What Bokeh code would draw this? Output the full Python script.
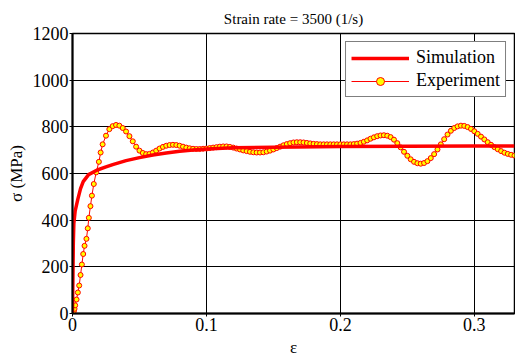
from bokeh.plotting import figure
from bokeh.models import Range1d, FixedTicker, Legend, LegendItem
from bokeh.embed import file_html
from bokeh.resources import INLINE

title_text = "Strain rate = 3500 (1/s)"
x_label = "ε"
y_label = "σ (MPa)"
x_ticks = [0, 0.1, 0.2, 0.3]
x_tick_labels = ["0", "0.1", "0.2", "0.3"]
y_ticks = [0, 200, 400, 600, 800, 1000, 1200]

sim_eps = [0, 0.0003, 0.0006, 0.001, 0.002, 0.004, 0.006, 0.008, 0.012, 0.0185,
           0.025, 0.03, 0.04, 0.05, 0.06, 0.07, 0.08, 0.09, 0.1, 0.12, 0.15,
           0.2, 0.25, 0.3, 0.33]
sim_sig = [0, 150, 300, 385, 440, 490, 535, 565, 595, 615,
           628, 638, 655, 668, 679, 688, 695, 701, 705, 710, 713,
           716, 717, 718, 718]

exp_eps = [0, 0.0005, 0.001, 0.0015, 0.002, 0.003, 0.004, 0.005, 0.006, 0.007,
           0.008, 0.009, 0.0104, 0.0114, 0.0122, 0.0134, 0.0145, 0.0159, 0.0177, 0.0197,
           0.021, 0.0225, 0.025, 0.0275, 0.03, 0.0325, 0.035, 0.0375, 0.04, 0.0425,
           0.045, 0.0475, 0.05, 0.0525, 0.055, 0.0575, 0.06, 0.0625, 0.065, 0.0675,
           0.07, 0.0725, 0.075, 0.0775, 0.08, 0.0825, 0.085, 0.0875, 0.09, 0.0925,
           0.095, 0.0975, 0.1, 0.1025, 0.105, 0.1075, 0.11, 0.1125, 0.115, 0.1175,
           0.12, 0.1225, 0.125, 0.1275, 0.13, 0.1325, 0.135, 0.1375, 0.14, 0.1425,
           0.145, 0.1475, 0.15, 0.1525, 0.155, 0.1575, 0.16, 0.1625, 0.165, 0.1675,
           0.17, 0.1725, 0.175, 0.1775, 0.18, 0.1825, 0.185, 0.1875, 0.19, 0.1925,
           0.195, 0.1975, 0.2, 0.2025, 0.205, 0.2075, 0.21, 0.2125, 0.215, 0.2175,
           0.22, 0.2225, 0.225, 0.2275, 0.23, 0.2325, 0.235, 0.2375, 0.24, 0.2425,
           0.245, 0.2475, 0.25, 0.2525, 0.255, 0.2575, 0.26, 0.2625, 0.265, 0.2675,
           0.27, 0.2725, 0.275, 0.2775, 0.28, 0.2825, 0.285, 0.2875, 0.29, 0.2925,
           0.295, 0.2975, 0.3, 0.3025, 0.305, 0.3075, 0.31, 0.3125, 0.315, 0.3175,
           0.32, 0.3225, 0.325, 0.3275, 0.33]
exp_sig = [0, 5, 10, 20, 35, 60, 90, 120, 165, 210,
           255, 290, 320, 365, 410, 460, 505, 555, 605, 650,
           690, 725, 762, 790, 803, 808, 805, 795, 780, 760,
           738, 715, 698, 688, 683, 684, 690, 698, 707, 714,
           719, 722, 723, 722, 719, 715, 711, 708, 706, 705,
           705, 706, 707, 709, 711, 713, 715, 716, 716, 714,
           711, 707, 703, 699, 696, 693, 691, 690, 690, 691,
           694, 698, 703, 709, 715, 721, 726, 730, 733, 734,
           734, 733, 731, 729, 727, 726, 725, 725, 725, 725,
           725, 725, 725, 725, 725, 725, 726, 728, 731, 736,
           742, 749, 755, 760, 763, 764, 762, 756, 745, 730,
           712, 693, 676, 661, 650, 644, 642, 645, 653, 666,
           683, 703, 725, 747, 767, 783, 795, 802, 805, 804,
           799, 791, 781, 770, 758, 746, 734, 723, 713, 704,
           696, 689, 684, 680, 677]

FONT = "Liberation Serif"

p = figure(width=515, height=359, output_backend="svg", toolbar_location=None,
           x_range=Range1d(0, 0.33), y_range=Range1d(0, 1200),
           min_border_left=72, min_border_right=1, min_border_top=33,
           min_border_bottom=46, title=title_text)

p.title.align = "center"
p.title.text_font = FONT
p.title.text_font_size = "15px"
p.title.text_font_style = "normal"
p.title.text_color = "black"
p.title.standoff = 13

p.background_fill_color = "white"
p.border_fill_color = "white"
p.outline_line_color = "black"
p.outline_line_width = 1.5
p.outline_line_alpha = 1

p.xaxis.ticker = FixedTicker(ticks=x_ticks)
p.xaxis.major_label_overrides = {t: l for t, l in zip(x_ticks, x_tick_labels)}
p.yaxis.ticker = FixedTicker(ticks=y_ticks)

for ax in (p.xaxis, p.yaxis):
    ax.axis_line_width = 2
    ax.axis_line_color = "black"
    ax.major_tick_in = 0
    ax.major_tick_out = 3
    ax.major_tick_line_width = 1
    ax.minor_tick_line_color = None
    ax.major_label_text_font = FONT
    ax.major_label_text_font_size = "18px"
    ax.major_label_text_color = "black"
    ax.axis_label_text_font = FONT
    ax.axis_label_text_font_size = "17px"
    ax.axis_label_text_font_style = "normal"
    ax.axis_label_text_color = "black"
    ax.major_label_standoff = 1

p.xaxis.axis_label = x_label
p.yaxis.axis_label = y_label
p.xaxis.axis_label_standoff = 4
p.yaxis.axis_label_standoff = 4

p.xgrid.ticker = FixedTicker(ticks=x_ticks)
p.ygrid.ticker = FixedTicker(ticks=y_ticks)
for g in (p.xgrid, p.ygrid):
    g.grid_line_color = "black"
    g.grid_line_width = 1
    g.grid_line_alpha = 1

exp_line = p.line(exp_eps, exp_sig, line_color="red", line_width=1)
exp_pts = p.scatter(exp_eps, exp_sig, marker="circle", size=5,
                    fill_color="yellow", line_color="red", line_width=1)
sim_line = p.line(sim_eps, sim_sig, line_color="red", line_width=3.5)

legend = Legend(items=[LegendItem(label="Simulation", renderers=[sim_line]),
                       LegendItem(label="Experiment", renderers=[exp_line, exp_pts])],
                location="top_right")
legend.label_text_font = FONT
legend.label_text_font_size = "18px"
legend.label_text_color = "black"
legend.border_line_color = "black"
legend.border_line_width = 1.5
legend.background_fill_color = "white"
legend.background_fill_alpha = 1
legend.glyph_width = 58
legend.glyph_height = 20
legend.label_height = 20
legend.label_standoff = 7
legend.spacing = 2
legend.padding = 5
legend.margin = 8
p.add_layout(legend)

open("out.html", "w").write(file_html(p, INLINE))
